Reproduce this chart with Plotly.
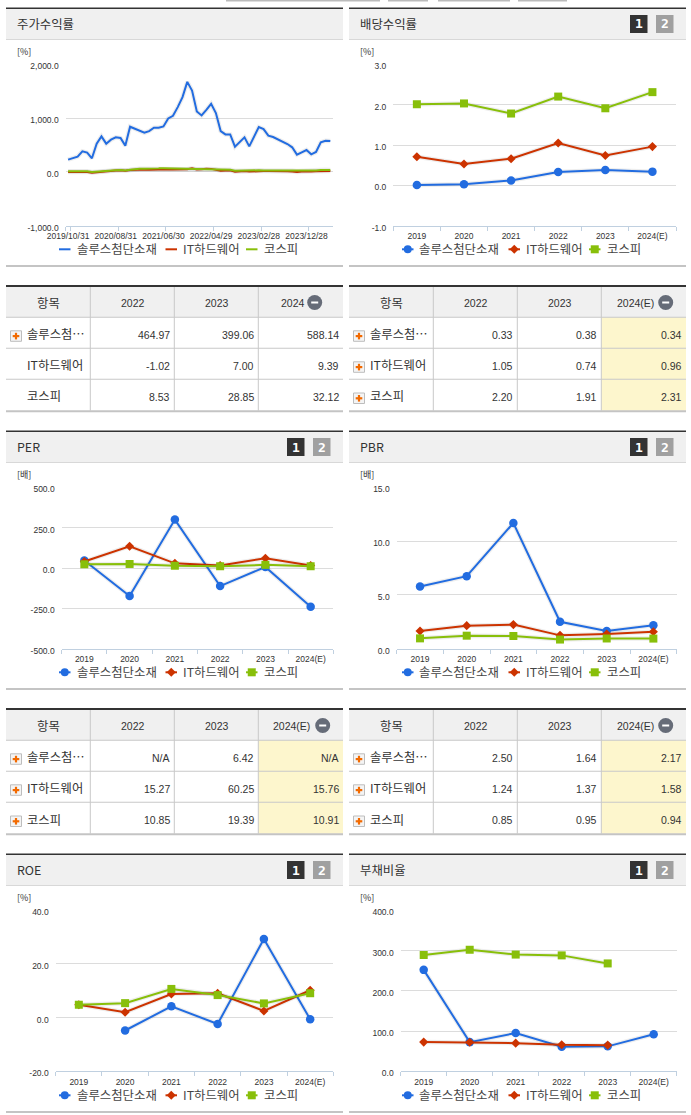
import plotly.graph_objects as go

W, H = 691, 1115

# Series names
SERIES = ["솔루스첨단소재", "IT하드웨어", "코스피"]
YEARS = ["2019", "2020", "2021", "2022", "2023", "2024(E)"]

# 주가수익률
RETURN_DATES = ["2019/10/31", "2020/08/31", "2021/06/30", "2022/04/29", "2023/02/28", "2023/12/28"]
RETURN_BLUE = [228, 253, 284, 383, 358, 253, 525, 660, 525, 599, 642, 630, 488, 840, 802, 765, 728, 759, 821, 821,
               846, 994, 1043, 1204, 1389, 1673, 1512, 1123, 1049, 1154, 1265, 1093, 759, 697, 697, 469, 549, 642,
               475, 654, 833, 796, 673, 648, 605, 574, 518, 457, 321, 364, 407, 327, 370, 549, 580, 574]
RETURN_RED = [-4, 0, 4, 6, 0, -14, -4, 12, 16, 22, 28, 30, 22, 34, 42, 42, 44, 42, 46, 48, 52, 50, 46, 44, 42, 48,
              66, 46, 50, 60, 56, 44, 20, 26, 28, 2, 8, 16, 6, 14, 20, 16, 16, 18, 20, 20, 14, 6, -2, 8, 14, 8, 10,
              16, 18, 16]
RETURN_GREEN = [10, 14, 17, 18, 12, 0, 8, 18, 22, 28, 32, 34, 28, 42, 55, 58, 60, 58, 62, 66, 70, 68, 62, 60, 58,
                54, 60, 50, 48, 48, 50, 46, 34, 36, 38, 20, 24, 30, 22, 26, 30, 28, 28, 30, 32, 32, 30, 24, 18, 24,
                30, 26, 28, 34, 38, 36]

# 배당수익률
DIV_BLUE = [0.01, 0.03, 0.12, 0.33, 0.38, 0.34]
DIV_RED = [0.71, 0.53, 0.66, 1.05, 0.74, 0.96]
DIV_GREEN = [2.01, 2.03, 1.78, 2.20, 1.91, 2.31]

# PER
PER_BLUE = [46, -173, 300, -112, 6.42, -240]
PER_RED = [40, 135, 29, 15.27, 60.25, 15.76]
PER_GREEN = [23, 25, 14, 10.85, 19.39, 10.91]

# PBR
PBR_BLUE = [5.78, 6.74, 11.68, 2.50, 1.64, 2.17]
PBR_RED = [1.65, 2.14, 2.24, 1.24, 1.37, 1.58]
PBR_GREEN = [0.96, 1.21, 1.18, 0.85, 0.95, 0.94]

# ROE
ROE_BLUE = [None, -4.8, 4.2, -2.35, 29.3, -0.6]
ROE_RED = [4.8, 2.0, 8.8, 9.1, 2.5, 10.2]
ROE_GREEN = [4.8, 5.4, 10.7, 8.4, 5.3, 9.1]

# 부채비율
DEBT_BLUE = [252, 72.5, 95, 61, 62, 92]
DEBT_RED = [72.5, 72, 70, 66, 65, None]
DEBT_GREEN = [289, 302, 290, 288, 268, None]

# y tick labels
TICKS_RETURN = ["-1,000.0", "0.0", "1,000.0", "2,000.0"]
TICKS_DIV = ["-1.0", "0.0", "1.0", "2.0", "3.0"]
TICKS_PER = ["-500.0", "-250.0", "0.0", "250.0", "500.0"]
TICKS_PBR = ["0.0", "5.0", "10.0", "15.0"]
TICKS_ROE = ["-20.0", "0.0", "20.0", "40.0"]
TICKS_DEBT = ["0.0", "100.0", "200.0", "300.0", "400.0"]

# tables
NAMES = ["솔루스첨…", "IT하드웨어", "코스피"]
COLS_A = ["2022", "2023", "2024"]
COLS_B = ["2022", "2023", "2024(E)"]
TABLE_RETURN = [["464.97", "399.06", "588.14"], ["-1.02", "7.00", "9.39"], ["8.53", "28.85", "32.12"]]
TABLE_DIV = [["0.33", "0.38", "0.34"], ["1.05", "0.74", "0.96"], ["2.20", "1.91", "2.31"]]
TABLE_PER = [["N/A", "6.42", "N/A"], ["15.27", "60.25", "15.76"], ["10.85", "19.39", "10.91"]]
TABLE_PBR = [["2.50", "1.64", "2.17"], ["1.24", "1.37", "1.58"], ["0.85", "0.95", "0.94"]]

BLUE = "#226ce0"
RED = "#cc3300"
GREEN = "#88bf0a"
KR = "Noto Sans CJK KR"
NUM = "Liberation Sans"
TEXT = "#333333"

shapes = []
annotations = []


def fx(x):
    return x / W


def fy(y):
    return 1 - y / H


def rect(x0, y0, x1, y1, fill, line=None):
    shapes.append(dict(type="rect", xref="paper", yref="paper", x0=fx(x0), x1=fx(x1), y0=fy(y0), y1=fy(y1),
                       fillcolor=fill, line=dict(color=line or fill, width=1 if line else 0), layer="below"))


def label(x, y, text, size=12, font=KR, color=TEXT, anchor="left"):
    annotations.append(dict(xref="paper", yref="paper", x=fx(x), y=fy(y), text=text, showarrow=False,
                            xanchor=anchor, yanchor="middle", borderpad=0, borderwidth=0,
                            font=dict(family=font, size=size, color=color)))


def legend_keys(x0, y, markers):
    # hand placed so the short key lines match the original
    keys = [(x0, x0 + 17.5), (x0 + 106.5, x0 + 124), (x0 + 187, x0 + 204.5)]
    colors = [BLUE, RED, GREEN]
    for i, (a, b) in enumerate(keys):
        shapes.append(dict(type="line", xref="paper", yref="paper", x0=fx(a), x1=fx(b - 6), y0=fy(y), y1=fy(y),
                           line=dict(color=colors[i], width=2)))
        label(b, y, SERIES[i], size=12.4, color="#444444")
        c = (a + b - 6) / 2
        if markers:
            if i == 0:
                shapes.append(dict(type="circle", xref="paper", yref="paper", x0=fx(c - 4), x1=fx(c + 4),
                                   y0=fy(y - 4), y1=fy(y + 4), fillcolor=BLUE, line_width=0))
            elif i == 1:
                path = "M %f %f L %f %f L %f %f L %f %f Z" % (fx(c), fy(y - 4.5), fx(c + 4.5), fy(y), fx(c), fy(y + 4.5),
                                                              fx(c - 4.5), fy(y))
                shapes.append(dict(type="path", xref="paper", yref="paper", path=path, fillcolor=RED, line_width=0))
            else:
                shapes.append(dict(type="rect", xref="paper", yref="paper", x0=fx(c - 4), x1=fx(c + 4),
                                   y0=fy(y - 4), y1=fy(y + 4), fillcolor=GREEN, line_width=0))


def panel(x0, x1, top, title, tabs=True):
    rect(x0, top - 1.5, x1, top, "#333333")
    rect(x0, top, x1, top + 30, "#f0f0f0")
    rect(x0, top + 30, x1, top + 31, "#d8d8d8")
    rect(x0, top + 256, x1, top + 258, "#c4c4c4")
    label(x0 + 11, top + 15, title, size=12.4)
    if tabs:
        for dx, fill, text in [(x1 - 56, "#333333", "1"), (x1 - 30, "#a0a0a0", "2")]:
            rect(dx, top + 6, dx + 17.5, top + 24, fill)
            label(dx + 8.75, top + 15, f"<b>{text}</b>", size=13, font="DejaVu Sans Mono", color="#ffffff",
                  anchor="center")


def table(x0, top, cols, rows, icons, shaded, minus_x, head_x):
    x1 = x0 + 337
    splits = [x0 + 84.3, x0 + 168.3, x0 + 252.3]
    lines = [top + 30.3, top + 61.3, top + 92.3, top + 123.7]
    rect(x0, top - 2, x1, top, "#333333")
    rect(x0, top, x1, lines[0], "#f0f0f0")
    if shaded:
        rect(splits[2], lines[0], x1, lines[3], "#fdf6cd")
    for yy in lines[:3]:
        rect(x0, yy - 0.5, x1, yy + 0.5, "#c8c8c8")
    rect(x0, lines[3] - 0.5, x1, lines[3] + 1.5, "#c4c4c4")
    for xx in splits:
        rect(xx - 0.5, top, xx + 0.5, lines[3], "#c8c8c8")
    label(x0 + 42, top + 15.5, "항목", size=12.4, anchor="center")
    label(x0 + 126.5, top + 15.5, cols[0], size=10.5, font=NUM, anchor="center")
    label(x0 + 210.5, top + 15.5, cols[1], size=10.5, font=NUM, anchor="center")
    label(head_x, top + 15.5, cols[2], size=10.5, font=NUM, anchor="center")
    # collapse button
    shapes.append(dict(type="circle", xref="paper", yref="paper", x0=fx(minus_x - 7.5), x1=fx(minus_x + 7.5),
                       y0=fy(top + 8), y1=fy(top + 23), fillcolor="#666c78", line_width=0, layer="below"))
    rect(minus_x - 3.5, top + 14.5, minus_x + 3.5, top + 16.5, "#ffffff")
    rights = [splits[0] + 79.5, splits[1] + 79.5, x1 - 4]
    for r, name in enumerate(NAMES):
        cy = (lines[r] + lines[r + 1]) / 2
        label(x0 + 20.7, cy + 1.5, name, size=12.3)
        if icons[r]:
            rect(x0 + 4.5, cy - 2, x0 + 15.5, cy + 8.5, "#f4f4f4", "#bdbdbd")
            rect(x0 + 6.7, cy + 2.2, x0 + 13.3, cy + 4.4, "#f26a00")
            rect(x0 + 8.9, cy, x0 + 11.1, cy + 6.6, "#f26a00")
        for c, value in enumerate(rows[r]):
            label(rights[c], cy + 2, value, size=10.5, font=NUM, anchor="right")


fig = go.Figure()


def chart(n, box, blue, red, green, ymin, ymax, ticktext, unit, x_labels=YEARS, x_step=1, markers=True):
    x0, x1, y0, y1 = box
    xs = list(range(len(blue)))
    step = (ymax - ymin) / (len(ticktext) - 1)
    tickvals = [ymin + step * i for i in range(len(ticktext))]
    xname = "x" if n == 1 else f"x{n}"
    yname = "y" if n == 1 else f"y{n}"
    syms = ["circle", "diamond", "square"]
    sizes = [8.5, 7, 8]
    for i, (values, color) in enumerate(zip([blue, red, green], [BLUE, RED, GREEN])):
        # soft shadow under the line
        fig.add_trace(go.Scatter(x=xs, y=values, mode="lines", xaxis=xname, yaxis=yname, showlegend=False,
                                 hoverinfo="skip", line=dict(color="rgba(0,0,0,0.07)", width=4.5)))
        fig.add_trace(go.Scatter(
            x=xs, y=values, name=SERIES[i], xaxis=xname, yaxis=yname, showlegend=False,
            mode="lines+markers" if markers else "lines", cliponaxis=False,
            line=dict(color=color, width=2),
            marker=dict(symbol=syms[i], size=sizes[i], color=color),
        ))
    if x_step == 1:
        boundaries = [i - 0.5 for i in range(len(xs) + 1)]
        major = xs
    else:
        boundaries = [-0.5] + [i + 0.5 for i in range(0, len(xs), x_step)]
        major = list(range(0, len(xs), x_step))
    axis_x = dict(domain=[fx(x0), fx(x1)], range=[-0.5, len(xs) - 0.5], anchor=yname, tickmode="array",
                  tickvals=major, ticktext=x_labels, ticks="", showgrid=False, zeroline=False, showline=True,
                  linecolor="#c0d0e0", linewidth=1, ticklabelstandoff=2, automargin=False, tickangle=0,
                  tickfont=dict(family=NUM, size=8.5, color="#333333"),
                  minor=dict(tickmode="array", tickvals=boundaries, ticks="outside", ticklen=4, tickwidth=1,
                             tickcolor="#c0d0e0", showgrid=False))
    axis_y = dict(domain=[fy(y1), fy(y0)], range=[ymin, ymax], anchor=xname, tickmode="array", tickvals=tickvals,
                  ticktext=ticktext, ticks="", showgrid=True, gridcolor="#dcdcdc", gridwidth=1, zeroline=False,
                  automargin=False, showline=False, ticklabelstandoff=6, ticklabelshift=2,
                  tickfont=dict(family=NUM, size=8.5, color="#333333"))
    fig.update_layout({xname.replace("x", "xaxis"): axis_x, yname.replace("y", "yaxis"): axis_y})
    label(17 if x0 < 345 else 360, y0 - 12.5, unit, size=9, font=KR)


# panels
panel(6, 343, 9, "주가수익률", tabs=False)
panel(349, 686, 9, "배당수익률")
panel(6, 343, 432, "PER")
panel(349, 686, 432, "PBR")
panel(6, 343, 855, "ROE")
panel(349, 686, 855, "부채비율")

chart(1, (65.7, 332.7, 64.3, 225.7), RETURN_BLUE, RETURN_RED, RETURN_GREEN, -1000, 2000, TICKS_RETURN, "[%]",
      x_labels=RETURN_DATES, x_step=10, markers=False)
chart(2, (393.3, 676, 64.3, 225.7), DIV_BLUE, DIV_RED, DIV_GREEN, -1, 3, TICKS_DIV, "[%]")
chart(3, (61.7, 333.3, 487.3, 648.7), PER_BLUE, PER_RED, PER_GREEN, -500, 500, TICKS_PER, "[배]")
chart(4, (396.7, 676.7, 487.3, 648.7), PBR_BLUE, PBR_RED, PBR_GREEN, 0, 15, TICKS_PBR, "[배]")
chart(5, (55.7, 333.3, 910.3, 1071.3), ROE_BLUE, ROE_RED, ROE_GREEN, -20, 40, TICKS_ROE, "[%]")
chart(6, (400.7, 676.7, 910.3, 1071.3), DEBT_BLUE, DEBT_RED, DEBT_GREEN, 0, 400, TICKS_DEBT, "[%]")

legend_keys(59, 249.3, False)
legend_keys(402, 249.3, True)
legend_keys(59, 672.3, True)
legend_keys(402, 672.3, True)
legend_keys(59, 1095.3, True)
legend_keys(402, 1095.3, True)

table(6, 287, COLS_A, TABLE_RETURN, [True, False, False], False, 314.7, 293)
table(349, 287, COLS_B, TABLE_DIV, [True, True, True], True, 665.7, 635)
table(6, 710, COLS_B, TABLE_PER, [True, True, True], True, 322.7, 291.7)
table(349, 710, COLS_B, TABLE_PBR, [True, True, True], True, 665.7, 635)

# cut off tabs along the top edge
for a, b in [(226, 380), (388, 428), (438, 510), (518, 567)]:
    rect(a, 0, b, 1.5, "#bbbbbb")

fig.update_layout(
    width=W, height=H, autosize=False, margin=dict(l=0, r=0, t=0, b=0, pad=0),
    paper_bgcolor="#ffffff", plot_bgcolor="rgba(0,0,0,0)", showlegend=False,
    shapes=shapes, annotations=annotations, font=dict(family=KR),
)

fig.write_html("out.html", config={"displayModeBar": False},
               post_script="document.body.style.margin='0';document.body.style.overflow='hidden';")
